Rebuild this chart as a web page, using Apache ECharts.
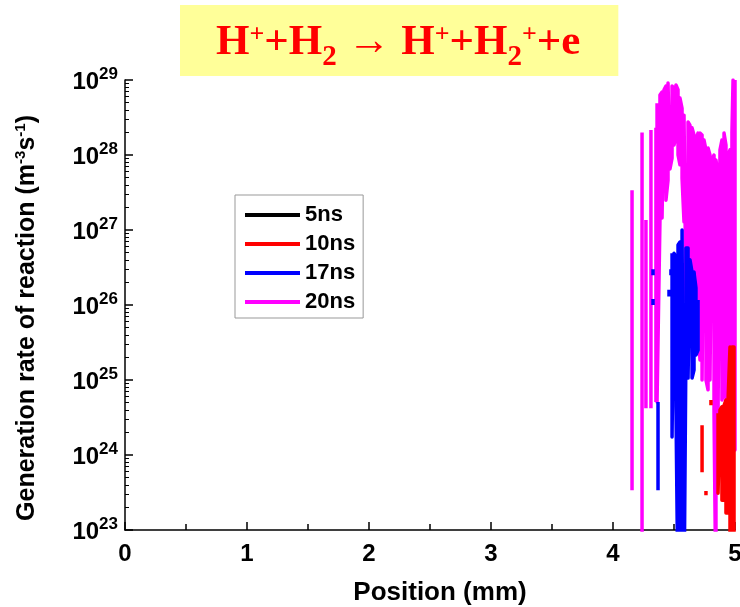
<!DOCTYPE html>
<html>
<head>
<meta charset="utf-8">
<script src="https://cdn.jsdelivr.net/npm/echarts@6.0.0/dist/echarts.min.js"></script>
<style>
html,body{margin:0;padding:0;background:#fff;}
#main{width:740px;height:607px;}
</style>
</head>
<body>
<div id="main"></div>
<script>
// series names / legend
var names = ['5ns', '10ns', '17ns', '20ns'];
var colors = ['#000000', '#ff0000', '#0000ff', '#ff00ff'];
var xTicks = [0, 1, 2, 3, 4, 5];
var decades = [23, 24, 25, 26, 27, 28, 29];

// 5ns: nothing above 1e23
var pos5 = [], top5 = [], low5 = [];

// 10ns (red) - isolated strokes, then the dense block at the right edge
var pos10s = [4.730, 4.803, 4.762];
var top10s = [2.5e24, 5.4e24, 3.3e23];
var low10s = [5.9e23, 4.6e24, 2.9e23];
var pos10 = [4.861, 4.877, 4.893, 4.910, 4.926, 4.943, 4.959, 4.975, 4.992];
var top10 = [3.6e24, 4.0e24, 4.4e24, 4.6e24, 5.4e24, 5.4e24, 2.75e25, 2.75e25, 2.75e25];
var low10 = [3.1e23, 3.1e23, 2.5e23, 2.5e23, 1.69e23, 1.69e23, 1e22, 1e22, 1e22];

// 17ns (blue)
var pos17s = [4.369, 4.328, 4.475, 4.459, 4.328];
var top17s = [5.1e24, 3.0e26, 3.0e26, 1.6e26, 1.2e26];
var low17s = [3.4e23, 2.5e26, 2.5e26, 1.3e26, 1.0e26];
var pos17 = [4.484, 4.500, 4.516, 4.533, 4.549, 4.566, 4.582, 4.598, 4.615, 4.631, 4.648, 4.664, 4.680, 4.697];
var top17 = [4.9e26, 4.9e26, 4.4e26, 6.3e26, 6.9e26, 1.0e27, 1.06e27, 5.75e26, 5.75e26, 4.0e26, 2.75e26, 2.75e26, 1.69e26, 1.17e26];
var low17 = [1.74e24, 1.74e24, 4.4e24, 1e22, 1e22, 1e22, 1e22, 2.7e25, 1.06e25, 1.06e25, 1.06e25, 1.36e25, 2.15e25, 2.5e25];

// 20ns (magenta)
var pos20s = [4.156, 4.238, 4.270, 4.311, 4.352];
var top20s = [3.4e27, 2.0e28, 1.36e27, 2.15e28, 2.3e28];
var low20s = [3.4e23, 1e22, 4.2e24, 4.2e24, 5.1e24];
var pos20 = [4.361, 4.385, 4.402, 4.418, 4.434, 4.451, 4.467, 4.484, 4.500, 4.516, 4.533, 4.549, 4.566, 4.582,
             4.598, 4.615, 4.631, 4.648, 4.664, 4.680, 4.697, 4.713, 4.730, 4.746, 4.762, 4.779, 4.795, 4.811,
             4.828, 4.844, 4.861, 4.877, 4.893, 4.910, 4.926, 4.943, 4.959, 4.975, 4.984, 5.000];
var top20 = [4.9e28, 6.3e28, 6.9e28, 7.4e28, 8.3e28, 9.1e28, 9.4e28, 8.3e28, 7.8e28, 8.6e28, 7.4e28, 5.75e28, 4.2e28, 3.4e28,
             3.2e28, 2.75e28, 2.5e28, 2.3e28, 1.85e28, 1.58e28, 1.96e28, 1.96e28, 1.85e28, 1.58e28, 1.17e28, 1.24e28, 1.0e28, 8.6e27,
             1.0e28, 8.6e27, 5.4e27, 1.17e28, 1.58e28, 1.96e28, 1.36e28, 1.0e28, 1.17e28, 2.0e28, 1.0e29, 1.0e29];
var low20 = [5.1e24, 1.36e27, 1.45e27, 1.45e27, 2.5e27, 4.6e27, 6.5e27, 9.1e27, 1.36e28, 1.74e28, 1.0e28, 7.4e27, 4.9e27, 1.28e27,
             1.17e26, 8.6e25, 4.6e25, 4.6e25, 6.3e25, 6.3e25, 6.3e25, 1.85e25, 1.0e25, 1.0e25, 1.0e25, 7.4e24, 1.0e25, 1.0e25,
             3.6e24, 1e22, 3.6e24, 3.6e24, 5.4e24, 7.4e24, 5.4e24, 5.4e24, 4.0e24, 5.4e24, 2.9e24, 1.17e24];

// separate vertical strokes
function strokes(pos, top, low) {
    var out = [];
    for (var i = 0; i < pos.length; i++) {
        out.push([pos[i], top[i]], [pos[i], low[i]], [pos[i], '-']);
    }
    return out;
}
// dense block: consecutive strokes joined top-bottom-bottom-top
function block(pos, top, low) {
    var out = [];
    for (var i = 0; i < pos.length; i++) {
        if (i % 2 == 0) out.push([pos[i], top[i]], [pos[i], low[i]]);
        else out.push([pos[i], low[i]], [pos[i], top[i]]);
    }
    return out;
}

var minorVals = [];
for (var d = 0; d < decades.length - 1; d++) {
    for (var k = 2; k <= 9; k++) minorVals.push(decades[d] + Math.log10(k));
}

var sans = 'Liberation Sans';
var myChart = echarts.init(document.getElementById('main'));

function line(i, data, z) {
    return {
        name: names[i],
        type: 'line',
        data: data,
        showSymbol: false,
        symbol: 'none',
        connectNulls: false,
        clip: true,
        z: z,
        color: colors[i],
        lineStyle: {color: colors[i], width: 3.5, join: 'round'}
    };
}

var option = {
    animation: false,
    backgroundColor: '#fff',
    title: {
        text: '{a|H}{p|+}{a|+H}{b|2}{a| \u2192 H}{p|+}{a|+H}{b|2}{p|+}{a|+e}',
        left: 180,
        top: 5,
        backgroundColor: '#ffff99',
        padding: [16, 38, 4, 36],
        textStyle: {
            fontFamily: 'Liberation Serif',
            fontWeight: 'bold',
            color: '#ff0000',
            rich: {
                a: {fontFamily: 'Liberation Serif', fontWeight: 'bold', color: '#ff0000', fontSize: 43, verticalAlign: 'bottom', padding: [0, 0, 8, 0]},
                p: {fontFamily: 'Liberation Serif', fontWeight: 'bold', color: '#ff0000', fontSize: 26, verticalAlign: 'bottom', padding: [0, 0, 24, 0]},
                b: {fontFamily: 'Liberation Serif', fontWeight: 'bold', color: '#ff0000', fontSize: 29, verticalAlign: 'bottom'}
            }
        }
    },
    legend: {
        data: names,
        orient: 'vertical',
        left: 235,
        top: 195,
        icon: 'rect',
        itemWidth: 55,
        itemHeight: 4,
        itemGap: 7,
        itemTextGap: 6,
        padding: [9, 8, 5, 10],
        borderColor: '#999',
        borderWidth: 1,
        textStyle: {fontFamily: sans, fontWeight: 'bold', fontSize: 22, color: '#000'}
    },
    grid: {left: 125, right: 5, top: 80, bottom: 77, containLabel: false, outerBoundsMode: 'none'},
    xAxis: {
        type: 'value',
        min: xTicks[0],
        max: xTicks[xTicks.length - 1],
        interval: 1,
        name: 'Position (mm)',
        nameLocation: 'middle',
        nameGap: 50,
        nameTextStyle: {fontFamily: sans, fontWeight: 'bold', fontSize: 26, color: '#000', padding: [0, 0, 0, 20]},
        axisLine: {lineStyle: {color: '#000', width: 1.5}},
        axisTick: {inside: true, length: 8, lineStyle: {color: '#000', width: 1.5}},
        minorTick: {show: true, splitNumber: 2, length: 6, lineStyle: {color: '#000', width: 1.5}},
        splitLine: {show: false},
        axisLabel: {fontFamily: sans, fontWeight: 'bold', fontSize: 24, color: '#000', margin: 12}
    },
    yAxis: [{
        type: 'log',
        logBase: 10,
        min: Math.pow(10, decades[0]),
        max: Math.pow(10, decades[decades.length - 1]),
        splitNumber: 6,
        name: '{a|Generation rate of reaction (m}{s|-3}{a|s}{s|-1}{a|)}',
        nameLocation: 'middle',
        nameGap: 85,
        nameRotate: 90,
        nameTextStyle: {
            padding: [0, 26, 0, 0],
            rich: {
                a: {fontFamily: sans, fontWeight: 'bold', fontSize: 25, color: '#000', verticalAlign: 'bottom'},
                s: {fontFamily: sans, fontWeight: 'bold', fontSize: 15, color: '#000', verticalAlign: 'bottom', padding: [0, 0, 12, 0]}
            }
        },
        axisLine: {show: true, lineStyle: {color: '#000', width: 1.5}},
        axisTick: {inside: true, length: 8, lineStyle: {color: '#000', width: 1.5}},
        splitLine: {show: false},
        axisLabel: {
            margin: 7,
            formatter: function (v) {
                return '{b|10}{s|' + Math.round(Math.log10(v)) + '}';
            },
            rich: {
                b: {fontFamily: sans, fontWeight: 'bold', fontSize: 24, color: '#000', verticalAlign: 'bottom'},
                s: {fontFamily: sans, fontWeight: 'bold', fontSize: 17, color: '#000', verticalAlign: 'bottom', padding: [0, 0, 12, 0]}
            }
        }
    }, {
        type: 'value',
        min: decades[0],
        max: decades[decades.length - 1],
        position: 'left',
        axisLine: {show: false},
        axisLabel: {show: false},
        splitLine: {show: false},
        axisTick: {show: true, inside: true, length: 4, customValues: minorVals, lineStyle: {color: '#000', width: 1}}
    }],
    series: [
        line(0, strokes(pos5, top5, low5), 5),
        line(1, strokes(pos10s, top10s, low10s).concat(block(pos10, top10, low10)), 4),
        line(2, strokes(pos17s, top17s, low17s).concat(block(pos17, top17, low17)), 3),
        line(3, strokes(pos20s, top20s, low20s).concat(block(pos20, top20, low20)), 2)
    ]
};
myChart.setOption(option);
</script>
</body>
</html>
